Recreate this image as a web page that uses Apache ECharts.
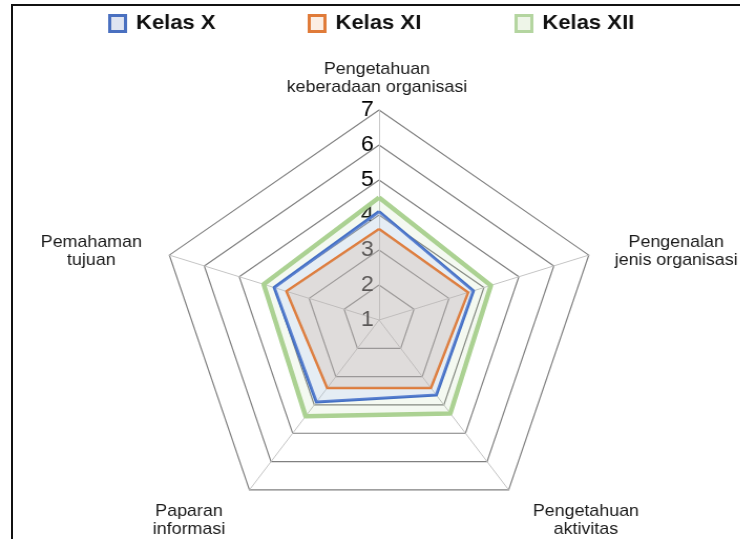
<!DOCTYPE html>
<html>
<head>
<meta charset="utf-8">
<script src="https://cdn.jsdelivr.net/npm/echarts@6/dist/echarts.min.js"></script>
<style>
  html, body { margin: 0; padding: 0; background: #fff; overflow: hidden; }
  #wrap { position: relative; width: 740px; height: 539px; }
  /* the reference picture is a little wider than tall, so stretch x a bit */
  #main { position: absolute; left: 0; top: 0; width: 705px; height: 539px;
          transform: scaleX(1.05); transform-origin: 0 0; }
  #frame { position: absolute; left: 11px; top: 4px; width: 760px; height: 600px;
           border: 2px solid #111; pointer-events: none; }
</style>
</head>
<body>
<div id="wrap">
  <div id="main"></div>
  <div id="frame"></div>
</div>
<script>
// data
var indicators = ['Pengetahuan\nkeberadaan organisasi', 'Pemahaman\ntujuan', 'Paparan\ninformasi', 'Pengetahuan\naktivitas', 'Pengenalan\njenis organisasi'];
var kelasX = [4.1, 4.0, 3.9, 3.65, 3.7];
var kelasXI = [3.6, 3.65, 3.4, 3.4, 3.55];
var kelasXII = [4.5, 4.3, 4.4, 4.3, 4.2];
var scaleMin = 1;
var scaleMax = 7;

var myChart = echarts.init(document.getElementById('main'));

var font = '"Liberation Sans", Arial, Helvetica, sans-serif';
// name label positions (chart space)
var namePos = [[359, 78], [87, 251], [180, 520], [558, 520], [644, 251]];

function legendItem(name, fill, border) {
    return { name: name, icon: 'rect', itemStyle: { color: fill, borderColor: border, borderWidth: 3 } };
}
var legendBase = {
    top: 8, itemWidth: 15, itemHeight: 16,
    textStyle: { fontFamily: font, fontSize: 21, fontWeight: 'bold', color: '#111', padding: [0, 0, 0, 5] }
};

var option = {
    animation: false,
    legend: [
        Object.assign({ left: 98, data: [legendItem('Kelas X', '#dfe4f1', '#4a70c0')] }, legendBase),
        Object.assign({ left: 288, data: [legendItem('Kelas XI', '#fbeee4', '#e07b39')] }, legendBase),
        Object.assign({ left: 485, data: [legendItem('Kelas XII', '#eef5e8', '#b4d5a0')] }, legendBase)
    ],
    radar: {
        center: [361, 320],
        radius: 210,
        startAngle: 90,
        splitNumber: 6,
        shape: 'polygon',
        indicator: indicators.map(function (n, i) {
            var o = { name: n, min: scaleMin, max: scaleMax };
            if (i === 0) o.axisLabel = { show: true };
            return o;
        }),
        axisName: { show: false },
        axisLine: { lineStyle: { color: '#c4c4c4', width: 1 } },
        splitLine: { lineStyle: { color: '#808080', width: 1.2 } },
        splitArea: { show: false },
        axisTick: { show: false },
        axisLabel: { show: false, fontFamily: font, fontSize: 22, color: '#000', margin: 5 }
    },
    graphic: indicators.map(function (n, i) {
        return {
            type: 'text', x: namePos[i][0], y: namePos[i][1], silent: true,
            style: { text: n, fontFamily: font, fontSize: 17, lineHeight: 18, fill: '#1a1a1a',
                     align: 'center', verticalAlign: 'middle' }
        };
    }),
    series: [
        {
            name: 'Kelas XII', type: 'radar', symbol: 'none',
            lineStyle: { color: '#acd293', width: 4.5 },
            itemStyle: { color: '#acd293' },
            areaStyle: { color: 'rgba(169,209,142,0.18)' },
            data: [{ value: kelasXII, name: 'Kelas XII' }]
        },
        {
            name: 'Kelas X', type: 'radar', symbol: 'none',
            lineStyle: { color: '#4470c4', width: 3 },
            itemStyle: { color: '#4470c4' },
            areaStyle: { color: 'rgba(173,193,254,0.3)' },
            data: [{ value: kelasX, name: 'Kelas X' }]
        },
        {
            name: 'Kelas XI', type: 'radar', symbol: 'none',
            lineStyle: { color: '#e07b39', width: 2.5 },
            itemStyle: { color: '#e07b39' },
            areaStyle: { color: 'rgba(200,163,140,0.35)' },
            data: [{ value: kelasXI, name: 'Kelas XI' }]
        }
    ]
};

myChart.setOption(option);
</script>
</body>
</html>
